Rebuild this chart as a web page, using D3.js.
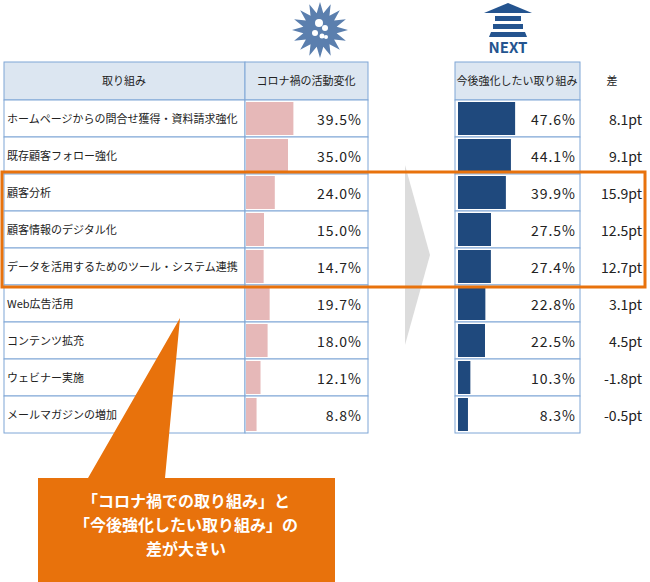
<!DOCTYPE html>
<html><head><meta charset="utf-8">
<script src="https://cdn.jsdelivr.net/npm/d3@7"></script>
<style>body{margin:0;background:#fff}text{font-family:"Noto Sans CJK JP",sans-serif}</style>
</head><body><svg id="c" width="650" height="582"></svg>
<script>
const items = ["ホームページからの問合せ獲得・資料請求強化","既存顧客フォロー強化","顧客分析","顧客情報のデジタル化","データを活用するためのツール・システム連携","Web広告活用","コンテンツ拡充","ウェビナー実施","メールマガジンの増加"];
const covid = [39.5,35.0,24.0,15.0,14.7,19.7,18.0,12.1,8.8];
const next = [47.6,44.1,39.9,27.5,27.4,22.8,22.5,10.3,8.3];
const diffs = ["8.1pt","9.1pt","15.9pt","12.5pt","12.7pt","3.1pt","4.5pt","-1.8pt","-0.5pt"];

const svg = d3.select("#c");
const top0 = 62, headH = 38, rowH = 37;
const y = d3.scaleBand().domain(d3.range(items.length)).range([top0 + headH, top0 + headH + rowH * items.length]);
const w = d3.scaleLinear().domain([0, 100]).range([0, 120]);
const bc = "#7fa6d6";

// grey arrow
svg.append("path").attr("d","M405,165 L430,255 L405,345 Z").attr("fill","#dcdcdc");

function cells(x, wd) {
  svg.append("rect").attr("x",x).attr("y",top0).attr("width",wd).attr("height",headH).attr("fill","#dce6f1").attr("stroke",bc);
  svg.selectAll(null).data(items).join("rect").attr("x",x).attr("y",(d,i)=>y(i)).attr("width",wd).attr("height",rowH).attr("fill","#fff").attr("stroke",bc);
}
cells(4, 241); cells(245, 123); cells(455, 125);

const hdr = [[124,"取り組み"],[306,"コロナ禍の活動変化"],[517,"今後強化したい取り組み"],[612,"差"]];
svg.selectAll(null).data(hdr).join("text").attr("x",d=>d[0]).attr("y",top0+23).attr("text-anchor","middle").attr("font-size",11).attr("fill","#222").text(d=>d[1]);

svg.selectAll(null).data(items).join("text").attr("x",7).attr("y",(d,i)=>y(i)+rowH/2+4).attr("font-size",11).attr("fill","#222").text(d=>d);

svg.selectAll(null).data(covid).join("rect").attr("x",246).attr("y",(d,i)=>y(i)+2).attr("width",d=>w(d)).attr("height",rowH-4).attr("fill","#e6b8b8");
svg.selectAll(null).data(covid).join("text").attr("x",362).attr("y",(d,i)=>y(i)+rowH/2+6).attr("text-anchor","end").attr("font-size",14).attr("letter-spacing",1).attr("fill","#222").text(d=>d.toFixed(1)+"%");

svg.selectAll(null).data(next).join("rect").attr("x",458).attr("y",(d,i)=>y(i)+2).attr("width",d=>w(d)).attr("height",rowH-4).attr("fill","#1f497d");
svg.selectAll(null).data(next).join("text").attr("x",576).attr("y",(d,i)=>y(i)+rowH/2+6).attr("text-anchor","end").attr("font-size",14).attr("letter-spacing",1).attr("fill","#222").text(d=>d.toFixed(1)+"%");

svg.selectAll(null).data(diffs).join("text").attr("x",642).attr("y",(d,i)=>y(i)+rowH/2+6).attr("text-anchor","end").attr("font-size",14).attr("fill","#222").text(d=>d);

// highlight box
svg.append("rect").attr("x",2).attr("y",y(2)-2).attr("width",643).attr("height",rowH*3+4).attr("fill","none").attr("stroke","#e8720c").attr("stroke-width",3);

// virus icon
const vg = svg.append("g").attr("transform","translate(320,30)").attr("fill","#5b7fae");
const spikes = 16, pts = [];
for (let k = 0; k < spikes*2; k++) { const a = Math.PI*k/spikes, r = k%2 ? 17 : 28; pts.push([r*Math.sin(a), -r*Math.cos(a)]); }
vg.append("path").attr("d", d3.line()(pts)+"Z");
[[-1,-7,4],[5,-2,3],[-5,3,3],[2,6,2.5],[6,7,2]].forEach(c=>vg.append("circle").attr("cx",c[0]).attr("cy",c[1]).attr("r",c[2]).attr("fill","#fff"));

// NEXT icon
const ng = svg.append("g").attr("fill","#24548f");
ng.append("path").attr("d","M508,3 L532,13 L484,13 Z");
ng.append("rect").attr("x",495).attr("y",16).attr("width",26).attr("height",5);
ng.append("rect").attr("x",493).attr("y",24).attr("width",30).attr("height",5);
ng.append("path").attr("d","M491,32 L525,32 L527,37 L489,37 Z");
ng.append("text").attr("x",508).attr("y",53).attr("text-anchor","middle").attr("font-size",15).attr("font-weight","bold").attr("font-family","Liberation Sans, sans-serif").attr("fill","#24548f").text("NEXT");

// callout
svg.append("path").attr("d","M38,478 L88,478 L180,318 L165,478 L335,478 L335,582 L38,582 Z").attr("fill","#e8720c");
const cl = ["「コロナ禍での取り組み」と","「今後強化したい取り組み」の","差が大きい"];
svg.selectAll(null).data(cl).join("text").attr("x",186).attr("y",(d,i)=>507+i*24).attr("text-anchor","middle").attr("font-size",16).attr("font-weight","bold").attr("fill","#fff").text(d=>d);
</script></body></html>
